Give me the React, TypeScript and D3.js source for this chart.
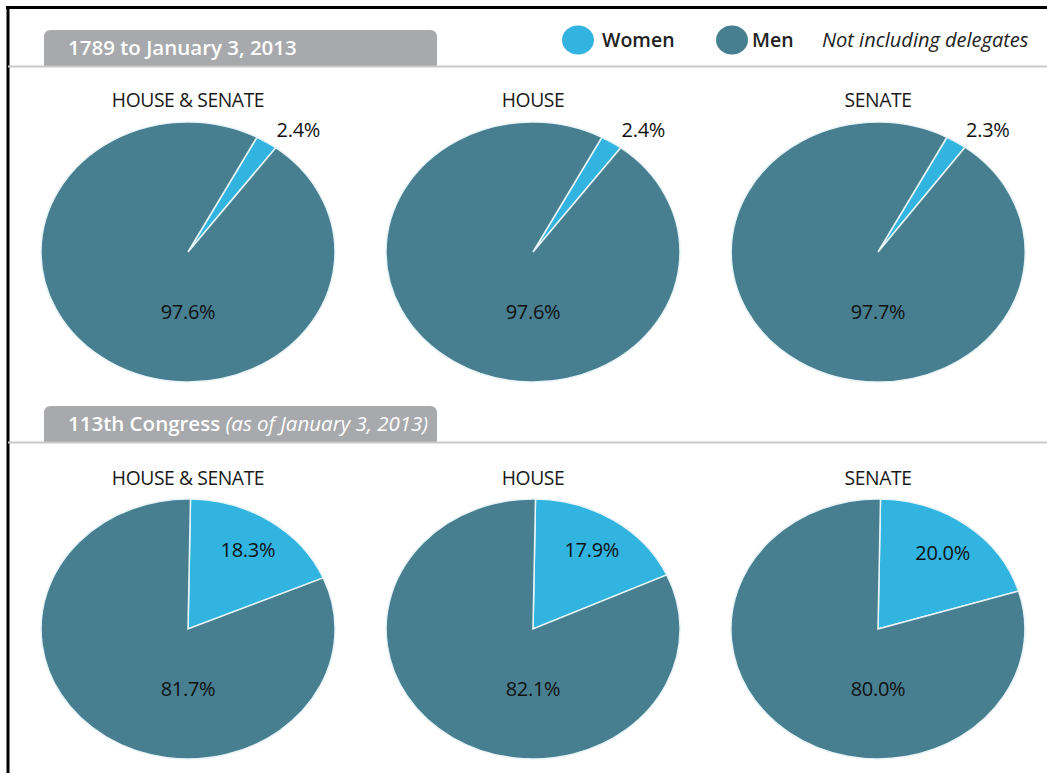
import * as d3 from 'd3'

const W = 1047, H = 773

const chambers = ['HOUSE & SENATE', 'HOUSE', 'SENATE']
const historicWomen = [2.4, 2.4, 2.3]
const historicMen = [97.6, 97.6, 97.7]
const currentWomen = [18.3, 17.9, 20.0]
const currentMen = [81.7, 82.1, 80.0]

const WOMEN = '#31b4e0'
const MEN = '#477f90'
const FONT = "'Open Sans', 'Noto Sans', sans-serif"

const RX = 147, RY = 130

const xPie = d3.scalePoint<string>().domain(chambers).range([188, 878])

interface RowProps {
  women: number[]
  men: number[]
  cy: number
  titleY: number
  rotate: number // degrees
  outsideWomen: boolean
}

function PieRow({ women, men, cy, titleY, rotate, outsideWomen }: RowProps) {
  const pie = d3.pie<number>().sort(null).value((d) => d)
    .startAngle((rotate * Math.PI) / 180)
    .endAngle((rotate * Math.PI) / 180 + 2 * Math.PI)
  const arc = d3.arc<d3.PieArcDatum<number>>().innerRadius(0).outerRadius(1)
  return (
    <g>
      {chambers.map((c, i) => {
        const cx = xPie(c)!
        const slices = pie([women[i], men[i]])
        const w = slices[0]
        const mid = (w.startAngle + w.endAngle) / 2
        const lr = outsideWomen ? 1.2 : 0.73
        const lx = cx + Math.sin(mid) * RX * lr + (outsideWomen ? 16 : 0)
        const ly = cy - Math.cos(mid) * RY * lr + (outsideWomen ? 10 : 0)
        return (
          <g key={c}>
            <text x={cx} y={titleY} textAnchor="middle" fontSize={19.3} fill="#1a1a1a"
              style={{ letterSpacing: '-0.4px' }}>{c}</text>
            <g transform={`translate(${cx},${cy}) scale(${RX},${RY})`}>
              {slices.map((s, j) => (
                <path key={j} d={arc(s)!} fill={j === 0 ? WOMEN : MEN}
                  stroke="#e8f4f8" strokeWidth={1.5} vectorEffect="non-scaling-stroke" />
              ))}
            </g>
            <text x={lx} y={ly} dy="0.35em" textAnchor="middle" fontSize={20} fill="#111"
              style={{ letterSpacing: '-0.3px' }}>
              {women[i].toFixed(1)}%
            </text>
            <text x={cx} y={cy + RY * 0.46} dy="0.35em" textAnchor="middle" fontSize={20} fill="#111"
              style={{ letterSpacing: '-0.3px' }}>
              {men[i].toFixed(1)}%
            </text>
          </g>
        )
      })}
    </g>
  )
}

function Tab({ y, children }: { y: number; children: any }) {
  const x0 = 44, x1 = 437, h = 36, r = 7
  const d = `M${x0},${y + h} L${x0},${y + r} Q${x0},${y} ${x0 + r},${y} L${x1 - r},${y} Q${x1},${y} ${x1},${y + r} L${x1},${y + h} Z`
  return (
    <g>
      <path d={d} fill="#a7a9ac" />
      <line x1={8} x2={W} y1={y + h + 0.5} y2={y + h + 0.5} stroke="#c9c9c9" strokeWidth={2} />
      <text x={68} y={y + 25} fontSize={20.5} fill="#fff" fontWeight={600}
        style={{ letterSpacing: '0px' }}>{children}</text>
    </g>
  )
}

export default function App() {
  return (
    <svg width={W} height={H} viewBox={`0 0 ${W} ${H}`}
      style={{ position: 'absolute', left: 0, top: 0, background: '#fff', fontFamily: FONT }}>
      <line x1={6} x2={W} y1={7.5} y2={7.5} stroke="#000" strokeWidth={3} />
      <line x1={8} x2={8} y1={6} y2={H} stroke="#000" strokeWidth={3} />

      <Tab y={30}>1789 to January 3, 2013</Tab>
      <Tab y={406}>
        113th Congress <tspan fontStyle="italic" fontWeight={400}>(as of January 3, 2013)</tspan>
      </Tab>

      <g>
        <ellipse cx={578} cy={40} rx={16} ry={14.5} fill={WOMEN} />
        <text x={602} y={47} fontSize={19.5} fontWeight={600} fill="#222">Women</text>
        <ellipse cx={732} cy={40} rx={16} ry={14.5} fill={MEN} />
        <text x={752} y={47} fontSize={19.5} fontWeight={600} fill="#222">Men</text>
        <text x={822} y={47} fontSize={20} fontStyle="italic" fill="#222">Not including delegates</text>
      </g>

      <PieRow women={historicWomen} men={historicMen} cy={252} titleY={107} rotate={28} outsideWomen />
      <PieRow women={currentWomen} men={currentMen} cy={629} titleY={485} rotate={1} outsideWomen={false} />
    </svg>
  )
}
